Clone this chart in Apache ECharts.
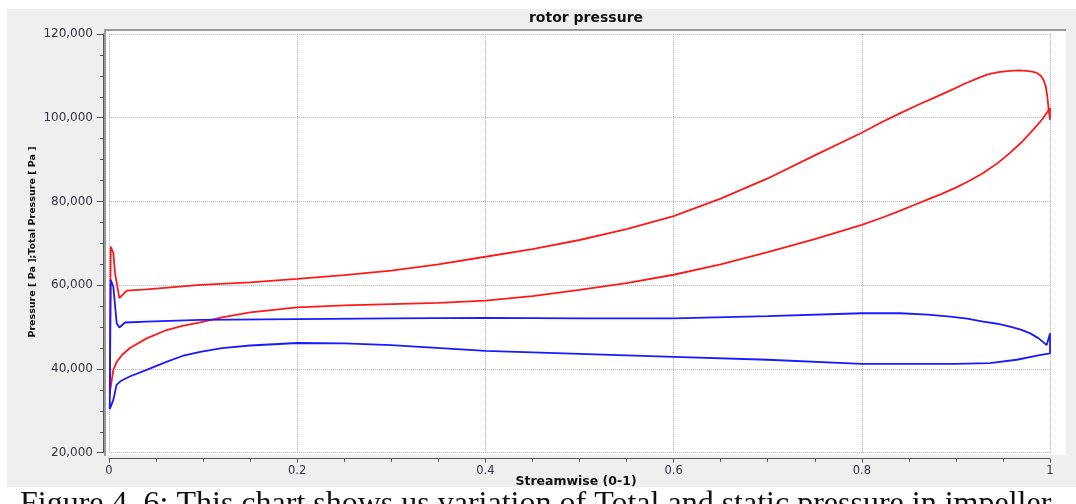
<!DOCTYPE html>
<html>
<head>
<meta charset="utf-8">
<script src="https://cdn.jsdelivr.net/npm/echarts@6/dist/echarts.min.js"></script>
<style>
html,body{margin:0;padding:0;background:#fff;}
#chart{width:1076px;height:504px;}
</style>
</head>
<body>
<div id="chart"></div>
<script>
// ---- data ----
const chartTitle = 'rotor pressure';
const xAxisName = 'Streamwise (0-1)';
const yAxisName = 'Pressure [ Pa ];Total Pressure [ Pa ]';
const caption = 'Figure 4. 6: This chart shows us variation of Total and static pressure in impeller';
const yTicks = [20000, 40000, 60000, 80000, 100000, 120000];
const xTicks = [0, 0.2, 0.4, 0.6, 0.8, 1];

// Total pressure loop (red): suction/pressure surfaces going around the blade
const totalStreamwise = [
  0.0008, 0.0018, 0.0046, 0.0064, 0.011, 0.0188, 0.04, 0.097, 0.15, 0.2, 0.25, 0.3, 0.35, 0.4, 0.45, 0.5,
  0.55, 0.6, 0.65, 0.7, 0.75, 0.8, 0.82, 0.841, 0.86, 0.876, 0.895, 0.911, 0.923, 0.933, 0.945, 0.9575, 0.967, 0.975, 0.981, 0.986, 0.99, 0.993, 0.9955, 0.9972, 0.9985, 1.0,
  1.0, 0.992, 0.982, 0.97, 0.9575, 0.944, 0.929, 0.915, 0.9, 0.885, 0.869, 0.855, 0.841, 0.82, 0.8, 0.75, 0.7, 0.65, 0.6, 0.55, 0.5, 0.45, 0.4, 0.35, 0.3,
  0.25, 0.2, 0.15, 0.12, 0.097, 0.078, 0.0613, 0.04, 0.0223, 0.014, 0.0082, 0.0046, 0.0008
];
const totalPressure = [
  34200, 69200, 67700, 62900, 56900, 58700, 59000, 60100, 60700, 61500, 62400, 63500, 65000, 66800, 68600, 70800,
  73400, 76500, 80700, 85500, 91000, 96400, 98800, 101100, 103100, 104700, 106600, 108300, 109400, 110300, 110900, 111200, 111300, 111200, 111000, 110700, 110100, 109100, 107500, 105000, 102200, 99500,
  102300, 99700, 97100, 94200, 91600, 89100, 86800, 85000, 83300, 81800, 80400, 79100, 77800, 76000, 74400, 71000, 67900, 65000, 62500, 60500, 58900, 57400, 56300, 55800, 55500,
  55200, 54700, 53500, 52300, 51100, 50300, 49300, 47300, 45000, 43400, 41700, 39800, 34200
];

// Static pressure loop (blue)
const staticStreamwise = [
  0.0008, 0.0018, 0.0046, 0.0082, 0.011, 0.017, 0.04, 0.097, 0.2, 0.3, 0.4, 0.5, 0.6, 0.7, 0.8, 0.841,
  0.87, 0.894, 0.912, 0.929, 0.944, 0.9575, 0.969, 0.979, 0.988, 0.9965, 1.0,
  1.0, 0.989, 0.9646, 0.936, 0.9, 0.8, 0.7, 0.6, 0.5, 0.4, 0.3, 0.25, 0.2, 0.15, 0.12, 0.097, 0.078, 0.061, 0.04, 0.022,
  0.013, 0.008, 0.0046, 0.0008
];
const staticPressure = [
  30400, 61300, 59700, 50900, 49900, 51100, 51300, 51700, 51900, 52100, 52200, 52100, 52100, 52600, 53300, 53300,
  53000, 52500, 52000, 51300, 50800, 50100, 49400, 48500, 47300, 45700, 48500,
  43700, 43300, 42200, 41400, 41200, 41200, 42200, 42900, 43600, 44300, 45700, 46100, 46200, 45600, 45000, 44100, 43100, 41700, 39800, 38200,
  37200, 36200, 32600, 30400
];

const zip = (xs, ys) => xs.map((x, i) => [x, ys[i]]);

const chart = echarts.init(document.getElementById('chart'), null, {renderer: 'canvas'});
const tickFont = 'DejaVu Sans, Verdana, sans-serif';

chart.setOption({
  animation: false,
  backgroundColor: '#ffffff',
  grid: {left: 109, right: 26, top: 34, bottom: 51.3, containLabel: false},
  graphic: [
    {type: 'rect', z: -20, shape: {x: 7, y: 9, width: 1069, height: 478}, style: {fill: '#efefef'}},
    {type: 'rect', z: -19, shape: {x: 106, y: 30, width: 960, height: 425}, style: {fill: '#ffffff'}},
    {type: 'line', z: -18, shape: {x1: 105, y1: 30, x2: 105, y2: 456}, style: {stroke: '#9a9a9a', lineWidth: 2}},
    {type: 'line', z: -18, shape: {x1: 104, y1: 30, x2: 1066, y2: 30}, style: {stroke: '#9a9a9a', lineWidth: 2}},
    {type: 'text', x: 586, y: 18, style: {text: chartTitle, fill: '#111', font: 'bold 14px DejaVu Sans, sans-serif', textAlign: 'center', textVerticalAlign: 'middle'}},
    {type: 'text', x: 576, y: 482, style: {text: xAxisName, fill: '#111', font: 'bold 12.5px DejaVu Sans, sans-serif', textAlign: 'center', textVerticalAlign: 'middle'}},
    {type: 'text', x: 33, y: 242, rotation: Math.PI / 2, style: {text: yAxisName, fill: '#111', font: 'bold 9.5px DejaVu Sans, sans-serif', textAlign: 'center', textVerticalAlign: 'middle'}},
    {type: 'text', x: 20, y: 489, style: {text: caption, fill: '#111', font: '32px Liberation Serif, Times New Roman, serif', textAlign: 'left', textVerticalAlign: 'top'}}
  ],
  xAxis: {
    type: 'value', min: xTicks[0], max: xTicks[xTicks.length - 1], interval: 0.2,
    offset: 6,
    axisLine: {show: true, onZero: false, lineStyle: {color: '#555', width: 1}},
    axisTick: {show: true, length: 4, lineStyle: {color: '#555'}},
    minorTick: {show: true, splitNumber: 4, length: 3, lineStyle: {color: '#555'}},
    axisLabel: {margin: 6, color: '#333344', fontFamily: tickFont, fontSize: 11.5, formatter: v => String(+v.toFixed(1))},
    splitLine: {show: true, lineStyle: {color: '#b4b4b4', type: 'dotted', width: 1}}
  },
  yAxis: {
    type: 'value', min: yTicks[0], max: yTicks[yTicks.length - 1], interval: 20000,
    offset: 6,
    axisLine: {show: true, onZero: false, lineStyle: {color: '#555', width: 1}},
    axisTick: {show: true, length: 6, lineStyle: {color: '#555'}},
    minorTick: {show: true, splitNumber: 4, length: 3, lineStyle: {color: '#555'}},
    axisLabel: {margin: 10, color: '#333344', fontFamily: tickFont, fontSize: 12, formatter: v => v.toLocaleString('en-US')},
    splitLine: {show: true, lineStyle: {color: '#b4b4b4', type: 'dotted', width: 1}}
  },
  series: [
    {name: 'Total Pressure', type: 'line', data: zip(totalStreamwise, totalPressure), showSymbol: false, symbol: 'none',
     lineStyle: {color: '#ff1a1a', width: 1.8}, itemStyle: {color: '#ff1a1a'}, z: 3},
    {name: 'Pressure', type: 'line', data: zip(staticStreamwise, staticPressure), showSymbol: false, symbol: 'none',
     lineStyle: {color: '#1a1aff', width: 1.8}, itemStyle: {color: '#1a1aff'}, z: 4}
  ]
});
</script>
</body>
</html>
